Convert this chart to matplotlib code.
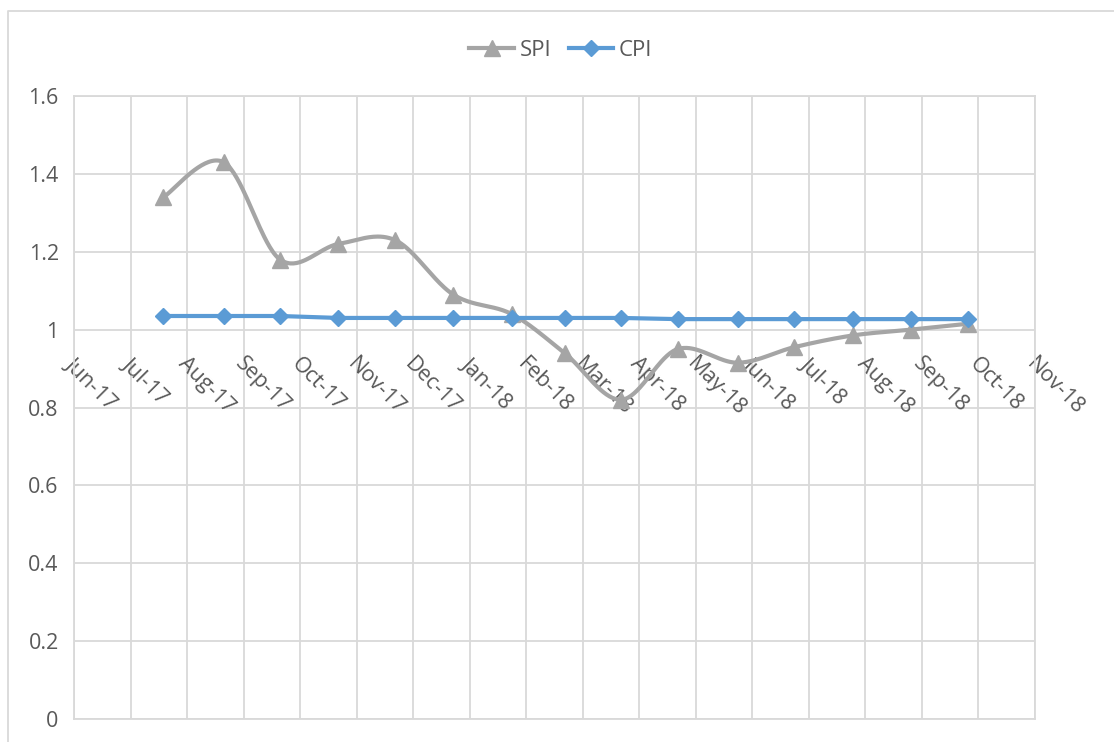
import numpy as np
import pandas as pd
import matplotlib.pyplot as plt
from matplotlib.lines import Line2D
from matplotlib.transforms import ScaledTranslation

plt.rcParams['font.family'] = ['Open Sans', 'DejaVu Sans']

# === Data ===
report_dates = ["2017-07-20", "2017-08-22", "2017-09-22", "2017-10-24", "2017-11-24",
                "2017-12-26", "2018-01-27", "2018-02-25", "2018-03-28", "2018-04-28",
                "2018-05-31", "2018-07-01", "2018-08-02", "2018-09-03", "2018-10-04"]
spi = [1.34, 1.43, 1.18, 1.22, 1.23, 1.09, 1.04, 0.94, 0.82, 0.95,
       0.915, 0.955, 0.985, 1.0, 1.015]
cpi = [1.035, 1.035, 1.035, 1.03, 1.03, 1.03, 1.03, 1.03, 1.03, 1.027,
       1.027, 1.027, 1.027, 1.027, 1.027]
month_labels = ["Jun-17", "Jul-17", "Aug-17", "Sep-17", "Oct-17", "Nov-17", "Dec-17",
                "Jan-18", "Feb-18", "Mar-18", "Apr-18", "May-18", "Jun-18", "Jul-18",
                "Aug-18", "Sep-18", "Oct-18", "Nov-18"]
y_ticks = [0, 0.2, 0.4, 0.6, 0.8, 1.0, 1.2, 1.4, 1.6]

# axis in days from the first month, one gridline every 31 days
axis_start = pd.Timestamp("2017-06-01")
step = 31
x = (pd.to_datetime(report_dates) - axis_start).days.values.astype(float)

GRAY = "#A5A5A5"
BLUE = "#5B9BD5"
GRID = "#D9D9D9"
TEXT = "#595959"
FS = 15.5


def smooth(xs, ys, n=40):
    # Bezier smoothing through every point (spreadsheet style)
    pts = np.column_stack([xs, ys]).astype(float)
    padded = np.vstack([pts[0], pts, pts[-1]])
    t = np.linspace(0, 1, n)[1:, None]
    out = [pts[0]]
    for i in range(len(pts) - 1):
        p0, p1, p2, p3 = padded[i], padded[i + 1], padded[i + 2], padded[i + 3]
        c1 = p1 + (p2 - p0) / 6
        c2 = p2 - (p3 - p1) / 6
        seg = (1 - t) ** 3 * p1 + 3 * (1 - t) ** 2 * t * c1 + 3 * (1 - t) * t ** 2 * c2 + t ** 3 * p2
        out.extend(seg)
    out = np.array(out)
    return out[:, 0], out[:, 1]


fig = plt.figure(figsize=(11.14, 7.42), dpi=100)
ax = fig.add_axes([74 / 1114, 23 / 742, 961 / 1114, 623 / 742])

# chart border
fig.add_artist(Line2D([8 / 1114, 8 / 1114, 1.0], [0.0, 1 - 11 / 742, 1 - 11 / 742],
                      transform=fig.transFigure, color=GRID, lw=1.3))

# === Lines ===
sx, sy = smooth(x, spi)
ax.plot(sx, sy, color=GRAY, lw=3, solid_capstyle="round", zorder=3)
ax.plot(x, spi, ls="none", marker="^", ms=12, color=GRAY, zorder=3)
ax.plot(x, cpi, color=BLUE, lw=3, marker="D", ms=8.5, zorder=4)

# === Axes ===
ax.set_xlim(0, step * (len(month_labels) - 1))
ax.set_ylim(0, 1.6)
ax.set_xticks([k * step for k in range(len(month_labels))])
ax.set_xticklabels([])
ax.set_yticks(y_ticks)
ax.set_yticklabels([f"{v:g}" for v in y_ticks])
ax.tick_params(length=0, labelsize=FS, labelcolor=TEXT)
ax.tick_params(axis="y", pad=11)
ax.grid(True, color=GRID, lw=1.3)
ax.set_axisbelow(True)
for s in ax.spines.values():
    s.set_color(GRID)
    s.set_linewidth(1.3)

# month labels hang under the 1.0 line
offset = ScaledTranslation(2 / 100, -24 / 100, fig.dpi_scale_trans)
for k, lab in enumerate(month_labels):
    ax.text(k * step, 1.0, lab, rotation=-45, rotation_mode="anchor",
            ha="left", va="top", fontsize=FS, color=TEXT,
            transform=ax.transData + offset, zorder=2)

# === Legend ===
handles = [Line2D([], [], color=GRAY, lw=3, marker="^", ms=12),
           Line2D([], [], color=BLUE, lw=3, marker="D", ms=8.5)]
fig.legend(handles, ["SPI", "CPI"], loc="center", bbox_to_anchor=(561 / 1114, 1 - 50 / 742),
           ncol=2, frameon=False, fontsize=16, labelcolor=TEXT,
           handlelength=2.0, handletextpad=0.25, columnspacing=0.8)

plt.savefig("out.png")
